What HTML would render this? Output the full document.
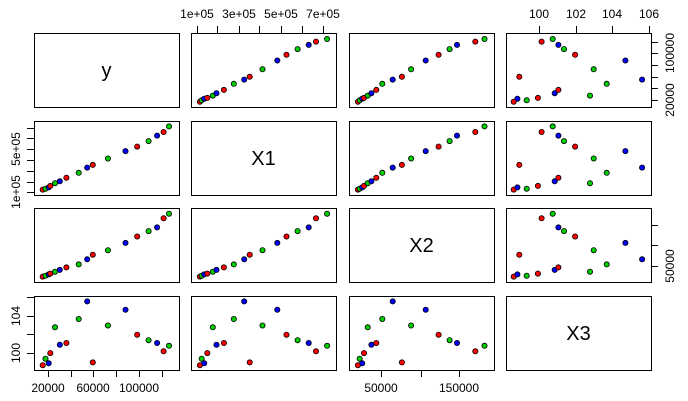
<!DOCTYPE html>
<html><head><meta charset="utf-8"><style>
html,body{margin:0;padding:0;background:#fff;width:688px;height:401px;overflow:hidden}
svg{display:block;font-family:"Liberation Sans",Arial,sans-serif}
</style></head><body>
<svg id="s" width="688" height="401" viewBox="0 0 688 401" xmlns="http://www.w3.org/2000/svg"></svg>
<script>
var fy=[.034,.055,.078,.090,.124,.159,.207,.297,.359,.400,.510,.639,.724,.807,.869,.917,.956];
var f1=[.036,.049,.067,.090,.130,.157,.211,.283,.359,.399,.493,.601,.668,.749,.830,.883,.964];
var f2=[.036,.049,.067,.080,.107,.134,.170,.214,.290,.357,.424,.531,.625,.705,.759,.893,.960];
var f3=[.027,.122,.054,.204,.584,.326,.353,.706,.964,.068,.611,.842,.475,.394,.353,.231,.312];
var V=[fy,f1,f2,f3],names=["y","X1","X2","X3"],cols=["#ff0000","#00cd00","#0000ff"];
var X=[34,191,349,506],Y=[33,121,208,296],W=145,H=74;
var o='';
function line(a,b,c,d){o+='<line x1="'+a+'" y1="'+b+'" x2="'+c+'" y2="'+d+'" stroke="#000" stroke-width="1"/>';}
function txt(x,y,t,extra,sz){o+='<text x="'+x+'" y="'+y+'" font-size="'+(sz||12)+'" text-anchor="middle" '+(extra||'')+'>'+t+'</text>';}
for(var r=0;r<4;r++)for(var c=0;c<4;c++){
 var x0=X[c],y0=Y[r];
 o+='<rect x="'+(x0+.5)+'" y="'+(y0+.5)+'" width="'+W+'" height="'+H+'" fill="none" stroke="#000" stroke-width="1"/>';
 if(r==c){txt(x0+W/2,y0+H/2+7,names[r],'',20);continue;}
 var a=V[c],b=V[r];
 for(var i=0;i<a.length;i++){
  var px=x0+4+a[i]*(W-8),py=y0+H-3-b[i]*(H-6);
  o+='<circle cx="'+px.toFixed(1)+'" cy="'+py.toFixed(1)+'" r="2.6" fill="'+cols[i%3]+'" stroke="#000" stroke-width="0.8"/>';
 }
}
// top axis X1
[197,217,239,259,281,302,323].forEach(function(x){line(x+.5,33,x+.5,26);});
[[197,'1e+05'],[239,'3e+05'],[281,'5e+05'],[323,'7e+05']].forEach(function(p){txt(p[0],18,p[1]);});
// top axis X3
[[539,'100'],[576,'102'],[612,'104'],[649,'106']].forEach(function(p){line(p[0]+.5,33,p[0]+.5,26);txt(p[0],18,p[1]);});
// right axis y (row1)
[42,53,65,77,88,100].forEach(function(y){line(651,y+.5,658,y+.5);});
[[53,'100000'],[100,'20000']].forEach(function(p){txt(671,p[0],p[1],'transform="rotate(-90 '+671+' '+p[0]+')" dominant-baseline="middle"');});
// left axis X1 (row2)
[128,138,149,160,171,182,192].forEach(function(y){line(34,y+.5,27,y+.5);});
[[149,'5e+05'],[192,'1e+05']].forEach(function(p){txt(17,p[0],p[1],'transform="rotate(-90 17 '+p[0]+')" dominant-baseline="middle"');});
// right axis X2 (row3)
[225,245,266].forEach(function(y){line(651,y+.5,658,y+.5);});
txt(671,266,'50000','transform="rotate(-90 671 266)" dominant-baseline="middle"');
// left axis X3 (row4)
[297,316,334,353].forEach(function(y){line(34,y+.5,27,y+.5);});
[[316,'104'],[353,'100']].forEach(function(p){txt(17,p[0],p[1],'transform="rotate(-90 17 '+p[0]+')" dominant-baseline="middle"');});
// bottom axis y (col1)
[48,71,93,116,139,162].forEach(function(x){line(x+.5,370,x+.5,377);});
[[48,'20000'],[93,'60000'],[139,'100000']].forEach(function(p){txt(p[0],392,p[1]);});
// bottom axis X2 (col3)
[381,421,459].forEach(function(x){line(x+.5,370,x+.5,377);});
[[381,'50000'],[459,'150000']].forEach(function(p){txt(p[0],392,p[1]);});
document.getElementById('s').innerHTML=o;
</script>
</body></html>
